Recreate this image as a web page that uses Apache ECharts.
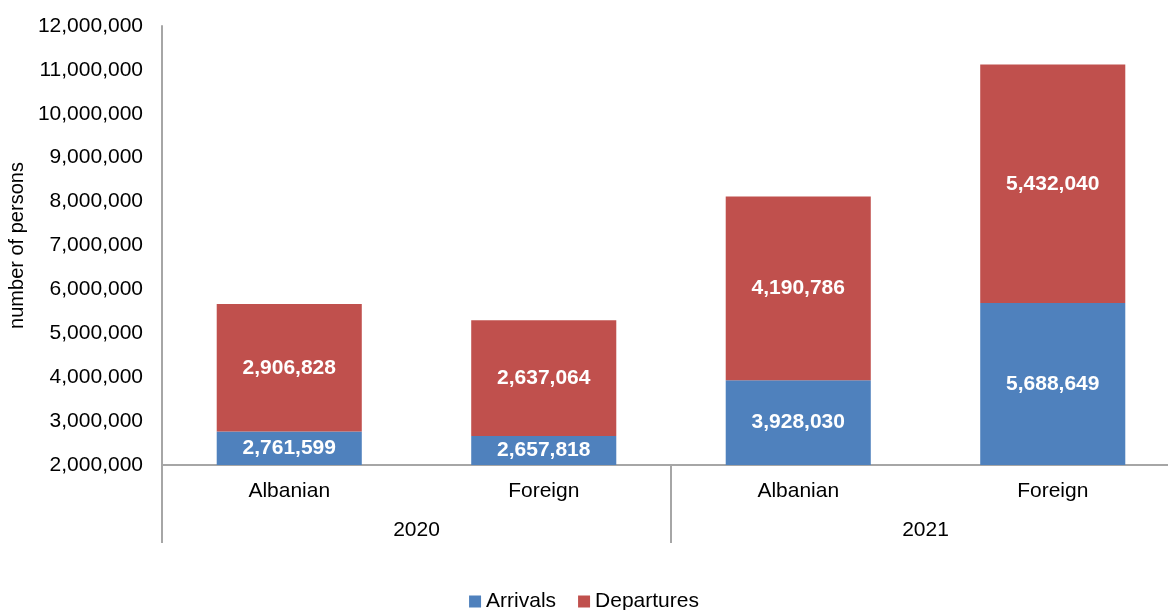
<!DOCTYPE html>
<html>
<head>
<meta charset="utf-8">
<script src="https://cdn.jsdelivr.net/npm/echarts@6/dist/echarts.min.js"></script>
<style>
html,body{margin:0;padding:0;background:#fff;}
#c{width:1168px;height:610px;}
</style>
</head>
<body>
<div id="c"></div>
<script>
const categories = ['Albanian', 'Foreign', 'Albanian', 'Foreign'];
const years = ['2020', '2021'];
const arrivals = [2761599, 2657818, 3928030, 5688649];
const departures = [2906828, 2637064, 4190786, 5432040];
const seriesNames = ['Arrivals', 'Departures'];
const yTitle = 'number of persons';

const fmt = v => Math.round(v).toLocaleString('en-US');
const FONT = 'Liberation Sans, Arial, sans-serif';
const FS = 21;

const chart = echarts.init(document.getElementById('c'));
chart.setOption({
  animation: false,
  textStyle: { fontFamily: FONT },
  grid: { left: 162, right: -12, top: 26, bottom: 145, containLabel: false, outerBoundsMode: 'none' },
  legend: {
    data: seriesNames,
    bottom: -7,
    left: 'center',
    itemWidth: 12, itemHeight: 12, itemGap: 22,
    icon: 'rect',
    textStyle: { fontSize: FS, color: '#000', fontFamily: FONT }
  },
  xAxis: [
    {
      type: 'category', data: categories, position: 'bottom',
      axisLine: { show: true, lineStyle: { color: '#a6a6a6', width: 2 } },
      axisTick: { show: false },
      axisLabel: { margin: 16, fontSize: FS, color: '#000', fontFamily: FONT }
    },
    {
      type: 'category', data: years, position: 'bottom',
      axisLine: { show: false },
      axisTick: { show: true, length: 78, lineStyle: { color: '#a6a6a6', width: 2 } },
      axisLabel: { margin: 55, fontSize: FS, color: '#000', fontFamily: FONT }
    }
  ],
  yAxis: {
    type: 'value', min: 2000000, max: 12000000, interval: 1000000,
    name: yTitle, nameLocation: 'middle', nameGap: 132, nameRotate: 90,
    nameTextStyle: { fontSize: FS - 1, color: '#000', fontFamily: FONT },
    axisLine: { show: true, lineStyle: { color: '#a6a6a6', width: 2 } },
    axisTick: { show: false },
    splitLine: { show: false },
    axisLabel: { margin: 19, fontSize: FS, color: '#000', fontFamily: FONT, formatter: fmt }
  },
  series: [
    {
      name: seriesNames[0], type: 'bar', stack: 'total', data: arrivals,
      xAxisIndex: 0, barWidth: '57%',
      itemStyle: { color: '#4F81BD' },
      label: { show: true, position: 'inside', color: '#fff', fontWeight: 'bold', fontSize: FS, fontFamily: FONT, formatter: p => fmt(p.value) }
    },
    {
      name: seriesNames[1], type: 'bar', stack: 'total', data: departures,
      xAxisIndex: 0, barWidth: '57%',
      itemStyle: { color: '#C0504D' },
      label: { show: true, position: 'inside', color: '#fff', fontWeight: 'bold', fontSize: FS, fontFamily: FONT, formatter: p => fmt(p.value) }
    }
  ]
});
</script>
</body>
</html>
